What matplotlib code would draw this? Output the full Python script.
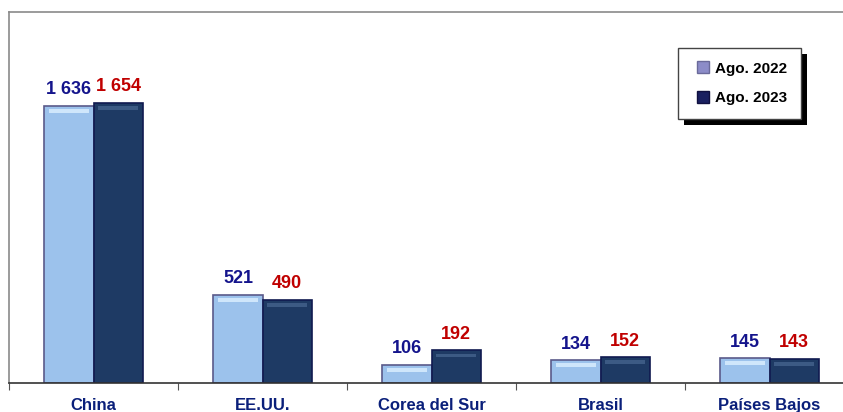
import numpy as np
import matplotlib
matplotlib.use("Agg")
import matplotlib.pyplot as plt
from matplotlib.lines import Line2D
from matplotlib.patches import Rectangle

plt.rcParams['font.family'] = ['Liberation Sans Narrow', 'Liberation Sans', 'DejaVu Sans']

countries = ["China", "EE.UU.", "Corea del Sur", "Brasil", "Países Bajos"]
ago_2022 = [1636, 521, 106, 134, 145]
ago_2023 = [1654, 490, 192, 152, 143]
labels_2022 = ["1 636", "521", "106", "134", "145"]
labels_2023 = ["1 654", "490", "192", "152", "143"]

light = "#9cc2ec"
dark = "#1e3a64"
navy = "#14148c"
red = "#c00000"

fig = plt.figure(figsize=(8.43, 4.12), dpi=100)
ax = fig.add_axes([9 / 843, 1 - 383 / 412, 845 / 843, (383 - 12) / 412])

x = np.arange(len(countries))
w = 0.29
b1 = ax.bar(x - w / 2, ago_2022, w, color=light, edgecolor="#5a5a8a", linewidth=1.2, zorder=2)
b2 = ax.bar(x + w / 2, ago_2023, w, color=dark, edgecolor="#101a50", linewidth=1.2, zorder=2)

# lighter band near the top of each bar (bevel look)
for bars, hl in ((b1, "#cfe6fb"), (b2, "#3c5a84")):
    for r in bars:
        h = r.get_height()
        ax.bar(r.get_x() + r.get_width() / 2, 22, r.get_width() * 0.8,
               bottom=h - 40, color=hl, linewidth=0, zorder=3)

for xi, v, t in zip(x, ago_2022, labels_2022):
    ax.text(xi - w / 2, v + 45, t, ha="center", va="bottom", color=navy,
            fontsize=13, fontweight="bold")
for xi, v, t in zip(x, ago_2023, labels_2023):
    ax.text(xi + w / 2, v + 45, t, ha="center", va="bottom", color=red,
            fontsize=13, fontweight="bold")

ax.set_xlim(-0.5, len(countries) - 0.5)
ax.set_ylim(0, 2191)
ax.set_yticks([])
ax.set_xticks(np.arange(-0.5, len(countries), 1.0))
ax.set_xticklabels([])
ax.set_xticks(x, minor=True)
ax.set_xticklabels(countries, minor=True, color="#0a1f7a", fontsize=12, fontweight="bold")
ax.tick_params(axis="x", which="minor", length=0, pad=11)
ax.tick_params(axis="x", which="major", length=5, color="#555555", direction="out")

for s in ["left", "top", "right"]:
    ax.spines[s].set_color("#8a8a8a")
    ax.spines[s].set_linewidth(1.2)
ax.spines["bottom"].set_color("#333333")
ax.spines["bottom"].set_linewidth(1.2)

handles = [
    Line2D([], [], marker="s", linestyle="none", markersize=8,
           markerfacecolor="#8c8cc8", markeredgecolor="#6a6a9a"),
    Line2D([], [], marker="s", linestyle="none", markersize=8,
           markerfacecolor="#1a2060", markeredgecolor="#101040"),
]
leg = fig.legend(handles, ["Ago. 2022", "Ago. 2023"], loc="upper left",
                 bbox_to_anchor=(678 / 843, 1 - 48 / 412), borderaxespad=0,
                 frameon=True, fancybox=False, shadow=False, framealpha=1,
                 handletextpad=0.0, handlelength=1.5, labelspacing=1.0,
                 borderpad=0.9, prop={"weight": "bold", "size": 11})
leg.get_frame().set_edgecolor("#444444")
leg.get_frame().set_facecolor("white")
leg.get_frame().set_linewidth(1.0)

# drop shadow behind the legend box
fig.canvas.draw()
bb = leg.get_window_extent().transformed(fig.transFigure.inverted())
fig.patches.append(Rectangle((bb.x0 + 6 / 843, bb.y0 - 6 / 412), bb.width, bb.height,
                             transform=fig.transFigure, facecolor="black",
                             edgecolor="none", zorder=leg.get_zorder() - 1))

fig.savefig("out.png", dpi=100)
